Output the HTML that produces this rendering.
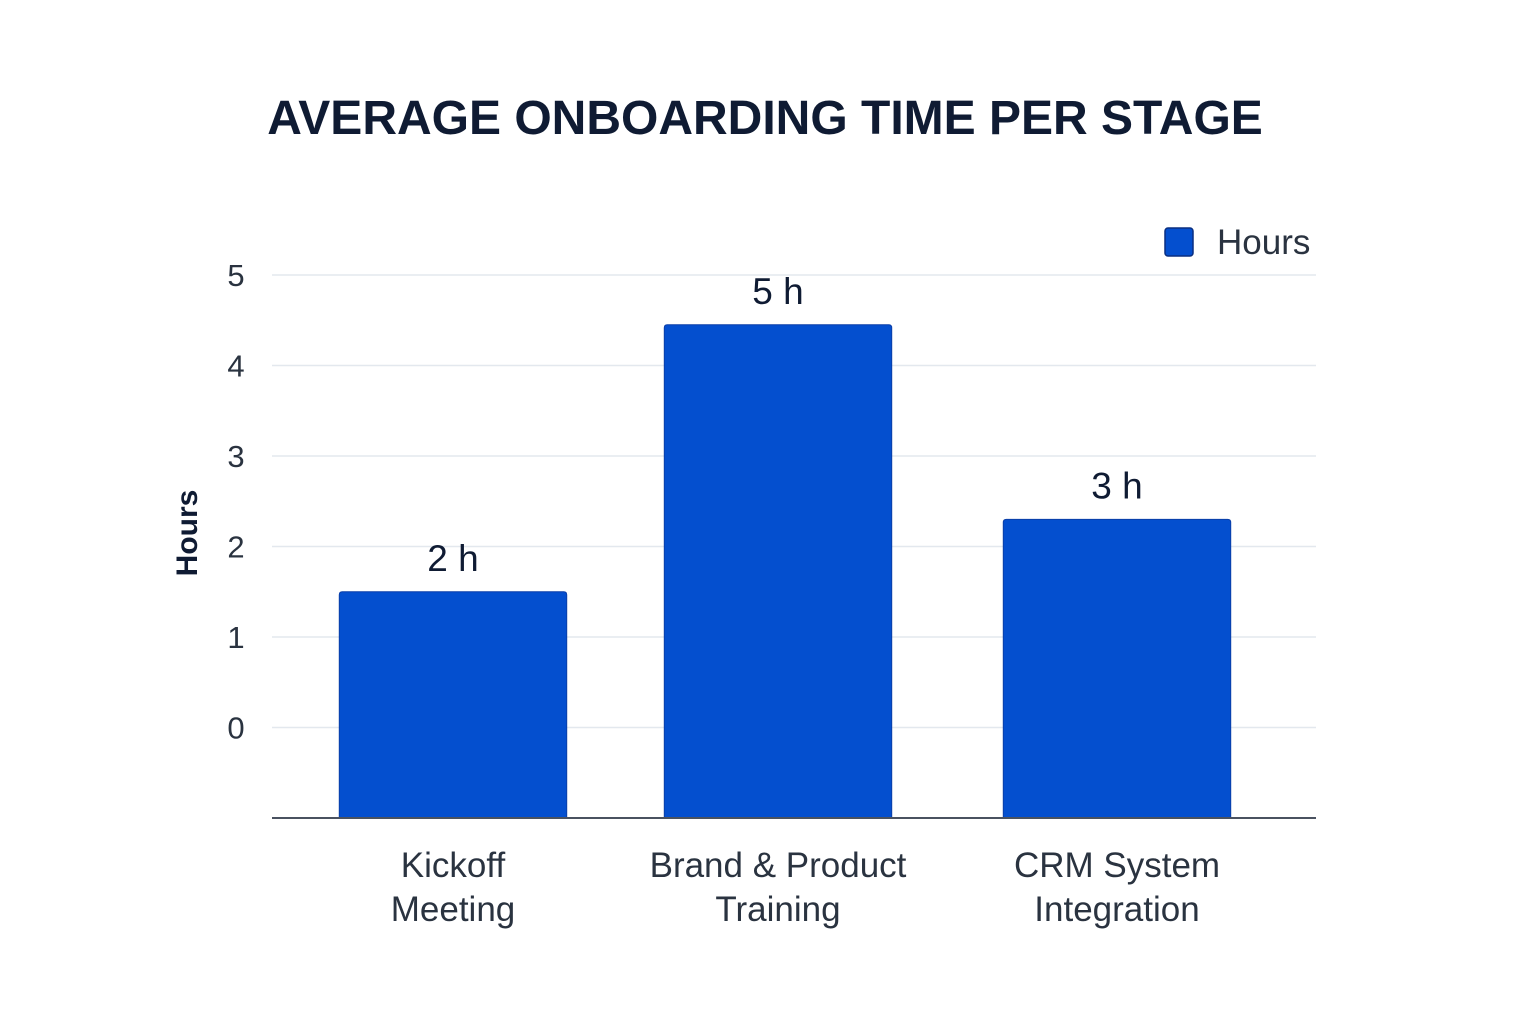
<!DOCTYPE html>
<html><head><meta charset="utf-8"><style>
html,body{margin:0;padding:0;background:#fff;}
svg{display:block;font-family:"Liberation Sans",sans-serif;}
</style></head><body>
<svg id="chart" width="1536" height="1024" viewBox="0 0 1536 1024">
<text x="765" y="134" text-anchor="middle" font-size="48" font-weight="bold" fill="#0f1b33">AVERAGE ONBOARDING TIME PER STAGE</text>
<g>
<rect x="1165" y="228" width="28" height="28" rx="3" fill="#044fcf" stroke="#0a2f80" stroke-width="1.5"/>
<text x="1217" y="254" font-size="35" fill="#2a3340">Hours</text>
</g>
<text transform="translate(197,533) rotate(-90)" text-anchor="middle" font-size="30" font-weight="bold" fill="#0f1b33">Hours</text>
<g id="grid"></g><g id="bars"></g><g id="labels"></g>
</svg>
<script>
const categories = [["Kickoff","Meeting"],["Brand & Product","Training"],["CRM System","Integration"]];
const values = [1.5, 4.45, 2.3];
const valueLabels = ["2 h","5 h","3 h"];
const yTicks = [0,1,2,3,4,5];
const NS="http://www.w3.org/2000/svg";
const yMin=-1, yMax=5, py0=818, py1=275;
function y(v){return py0-(v-yMin)/(yMax-yMin)*(py0-py1);}
const xStart=287, xEnd=1283, band=(xEnd-xStart)/categories.length, bw=band*0.685;
function xc(i){return xStart+band*(i+0.5)-(i===1?7:0);}
function mk(tag,attrs,parent){const e=document.createElementNS(NS,tag);for(const k in attrs)e.setAttribute(k,attrs[k]);parent.appendChild(e);return e;}
const grid=document.getElementById('grid'), bars=document.getElementById('bars'), labels=document.getElementById('labels');
yTicks.forEach(t=>{
  const l=mk('line',{x1:272,x2:1316,y1:y(t),y2:y(t),stroke:'#e3e8ee','stroke-width':1.5},grid);
  
  
  const tx=mk('text',{x:236,y:y(t)+11,'text-anchor':'middle','font-size':31,fill:'#2a3340'},grid);
  tx.textContent=t;
  
  
});
values.forEach((v,i)=>{
  const top=y(v), x0=xc(i)-bw/2, r=3;
  const p=mk('path',{d:`M${x0},${py0} L${x0},${top+r} Q${x0},${top} ${x0+r},${top} L${x0+bw-r},${top} Q${x0+bw},${top} ${x0+bw},${top+r} L${x0+bw},${py0} Z`,fill:'#044fcf',stroke:'#0a3ea8','stroke-width':1},bars);
  
  
  const vl=mk('text',{x:xc(i),y:top-21,'text-anchor':'middle','font-size':37,fill:'#0f1b33'},labels);
  vl.textContent=valueLabels[i];
  
  
  categories[i].forEach((line,j)=>{
    const c=mk('text',{x:xc(i),y:877+j*44,'text-anchor':'middle','font-size':35,fill:'#2a3340'},labels);
    c.textContent=line;
    
    
  });
});
const ax=mk('line',{x1:272,x2:1316,y1:py0,y2:py0,stroke:'#4a5260','stroke-width':2},labels);


</script>
</body></html>
